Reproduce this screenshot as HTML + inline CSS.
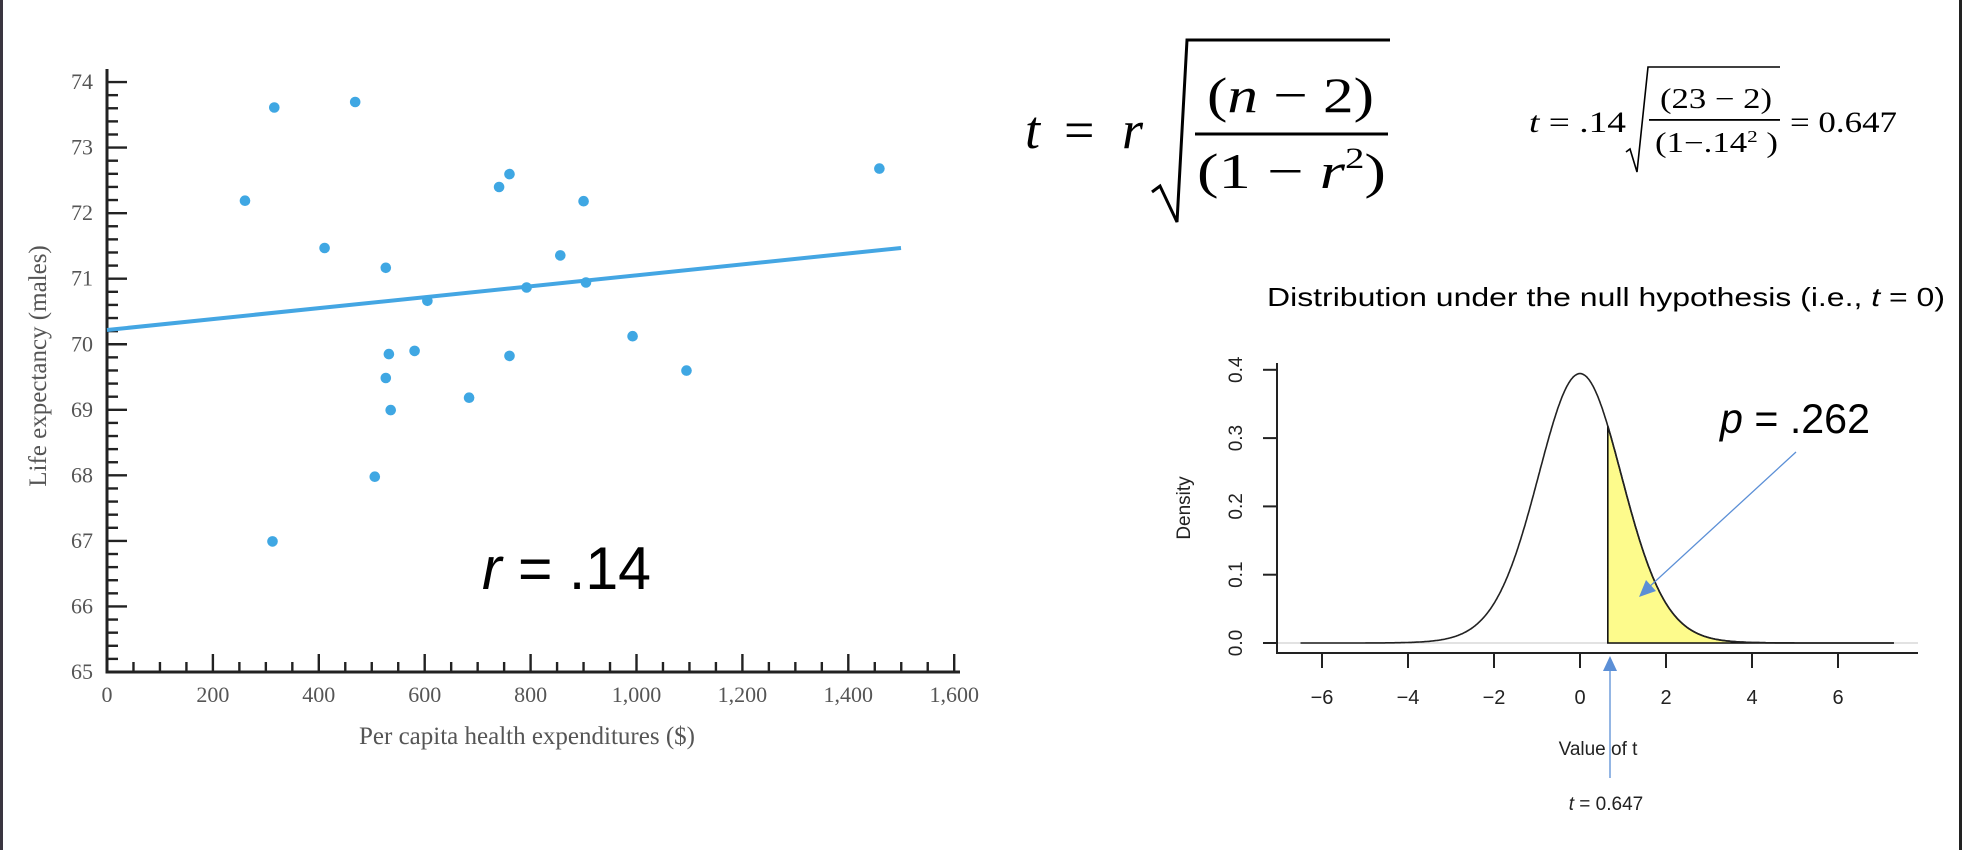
<!DOCTYPE html>
<html><head><meta charset="utf-8"><style>
html,body{margin:0;padding:0;background:#fff;}
svg{display:block;}
</style></head><body>
<svg id="s" width="1962" height="850" viewBox="0 0 1962 850" xmlns="http://www.w3.org/2000/svg">
<rect x="0" y="0" width="1962" height="850" fill="#fff"/>
<rect x="0" y="0" width="3" height="850" fill="#3a3540"/>
<rect x="1959" y="0" width="3" height="850" fill="#222"/>
<g id="left"></g>
<g font-family="Liberation Serif, serif" fill="#555">
<text x="527" y="744" font-size="25" text-anchor="middle">Per capita health expenditures ($)</text>
<text transform="translate(46,366) rotate(-90)" font-size="25" text-anchor="middle">Life expectancy (males)</text>
</g>
<text x="482" y="589" font-family="Liberation Sans, sans-serif" font-size="60" textLength="169" lengthAdjust="spacingAndGlyphs"><tspan font-style="italic">r</tspan> = .14</text>

<!-- big formula -->
<g font-family="Liberation Serif, serif" fill="#000">
<text x="1025" y="148" font-size="54" font-style="italic">t</text>
<text x="1064" y="148" font-size="54">=</text>
<text x="1122" y="148" font-size="54" font-style="italic">r</text>
<polyline points="1152,192 1160,186 1177,222 1187,40 1390,40" fill="none" stroke="#000" stroke-width="3"/>
<rect x="1195" y="132.5" width="193" height="3"/>
<text x="1207" y="112" font-size="50" textLength="167" lengthAdjust="spacingAndGlyphs">(<tspan font-style="italic">n</tspan> − 2)</text>
<text x="1197" y="188" font-size="50" textLength="189" lengthAdjust="spacingAndGlyphs">(1 − <tspan font-style="italic">r</tspan><tspan font-size="30" dy="-20">2</tspan><tspan dy="20">)</tspan></text>
</g>
<!-- small formula -->
<g font-family="Liberation Serif, serif" fill="#000">
<text x="1529" y="132" font-size="30" textLength="97" lengthAdjust="spacingAndGlyphs"><tspan font-style="italic">t</tspan> = .14</text>
<polyline points="1626,152 1630,149 1637,172 1648,67 1780,67" fill="none" stroke="#000" stroke-width="1.6"/>
<rect x="1649" y="119" width="131" height="1.8"/>
<text x="1660" y="108" font-size="28" textLength="112" lengthAdjust="spacingAndGlyphs">(23 − 2)</text>
<text x="1655" y="152" font-size="28" textLength="123" lengthAdjust="spacingAndGlyphs">(1−.14<tspan font-size="17" dy="-10">2</tspan><tspan dy="10"> )</tspan></text>
<text x="1790" y="132" font-size="30" textLength="107" lengthAdjust="spacingAndGlyphs">= 0.647</text>
</g>
<text x="1267" y="306" font-family="Liberation Sans, sans-serif" font-size="26" textLength="678" lengthAdjust="spacingAndGlyphs">Distribution under the null hypothesis (i.e., <tspan font-style="italic">t</tspan> = 0)</text>

<g id="right"></g>
<g font-family="Liberation Sans, sans-serif" fill="#222">
<text transform="translate(1190,508) rotate(-90)" font-size="19" text-anchor="middle">Density</text>
<text x="1598" y="755" font-size="19" text-anchor="middle">Value of t</text>
<text x="1606" y="810" font-size="19" text-anchor="middle"><tspan font-style="italic">t</tspan> = 0.647</text>
</g>
<text x="1720" y="433" font-family="Liberation Sans, sans-serif" font-size="42" textLength="150" lengthAdjust="spacingAndGlyphs"><tspan font-style="italic">p</tspan> = .262</text>
<g stroke="#5b8fd6" fill="#5b8fd6" stroke-width="1.3">
<line x1="1796" y1="452" x2="1648" y2="588"/>
<polygon points="1639,597 1646,580 1656,591" stroke="none"/>
<line x1="1610" y1="778" x2="1610" y2="668"/>
<polygon points="1610,656 1603,671 1617,671" stroke="none"/>
</g>
</svg>
<script>
var NS="http://www.w3.org/2000/svg";
function el(p,n,a,t){var e=document.createElementNS(NS,n);for(var k in a)e.setAttribute(k,a[k]);if(t!==undefined)e.textContent=t;p.appendChild(e);return e;}
var L=document.getElementById("left");
var X0=107,XS=105.9/200,Y0=672,YS=65.55;
el(L,"line",{x1:X0,y1:69,x2:X0,y2:Y0+1.5,stroke:"#222","stroke-width":3});
el(L,"line",{x1:X0-1.5,y1:Y0,x2:960,y2:Y0,stroke:"#222","stroke-width":3});
for(var i=0;i<=45;i++){var y=Y0-i*YS/5;var maj=i%5==0;el(L,"line",{x1:X0,y1:y,x2:X0+(maj?20:11),y2:y,stroke:"#222","stroke-width":2.4});
 if(maj)el(L,"text",{x:93,y:y+7,"font-family":"Liberation Serif, serif","font-size":22,fill:"#555","text-anchor":"end"},String(65+i/5));}
for(var v=0;v<=1600;v+=50){var x=X0+v*XS;var maj=v%200==0;el(L,"line",{x1:x,y1:Y0,x2:x,y2:Y0-(maj?18:10),stroke:"#222","stroke-width":2.4});
 if(maj){var s=v>=1000?(Math.floor(v/1000)+","+String(v%1000).padStart(3,"0")):String(v);el(L,"text",{x:x,y:702,"font-family":"Liberation Serif, serif","font-size":22,fill:"#555","text-anchor":"middle"},s);}}
el(L,"line",{x1:107,y1:330,x2:901,y2:248,stroke:"#44a6e3","stroke-width":4});
var P=[[274.3,107.5],[355.2,102],[245,200.7],[324.6,248],[385.8,267.8],[427.4,300.8],[388.9,354.1],[414.6,350.9],[385.8,378],[390.7,410.1],[374.8,476.7],[272.5,541.4],[469.1,397.7],[509.5,355.9],[499.1,187],[509.5,174.1],[526.6,287.5],[560.3,255.4],[583.6,201.2],[586,282.5],[632.6,336.2],[686.5,370.6],[879.4,168.6]];
P.forEach(function(p){el(L,"circle",{cx:p[0],cy:p[1],r:5.3,fill:"#3fa7e3"});});

var R=document.getElementById("right");
var TX0=1580,TS=43,B=643,DS=683;
function f(t){return 0.3945*Math.pow(1+t*t/21,-11);}
el(R,"line",{x1:1277,y1:B,x2:1918,y2:B,stroke:"#e2e2e2","stroke-width":2});
var d="M"+(TX0+0.647*TS)+","+B;
for(var t=0.647;t<=7.3;t+=0.02)d+=" L"+(TX0+t*TS).toFixed(1)+","+(B-f(t)*DS).toFixed(1);
d+=" L"+(TX0+7.3*TS)+","+B+" Z";
el(R,"path",{d:d,fill:"#fdfb8c",stroke:"#111","stroke-width":1.6});
var c="";for(var t=-6.5;t<=7.3;t+=0.02)c+=(c?" L":"M")+(TX0+t*TS).toFixed(1)+","+(B-f(t)*DS).toFixed(1);
el(R,"path",{d:c,fill:"none",stroke:"#222","stroke-width":1.6});
el(R,"line",{x1:1277,y1:363,x2:1277,y2:654,stroke:"#222","stroke-width":2});
el(R,"line",{x1:1276,y1:653,x2:1918,y2:653,stroke:"#222","stroke-width":2});
for(var k=0;k<=4;k++){var y=B-k*0.1*DS;el(R,"line",{x1:1263,y1:y,x2:1277,y2:y,stroke:"#222","stroke-width":2});
 el(R,"text",{transform:"translate(1242,"+y+") rotate(-90)","font-family":"Liberation Sans, sans-serif","font-size":19,fill:"#222","text-anchor":"middle"},(k/10).toFixed(1));}
for(var v=-6;v<=6;v+=2){var x=TX0+v*TS;el(R,"line",{x1:x,y1:653,x2:x,y2:668,stroke:"#222","stroke-width":2});
 el(R,"text",{x:x,y:704,"font-family":"Liberation Sans, sans-serif","font-size":20,fill:"#222","text-anchor":"middle"},v<0?"−"+(-v):String(v));}
</script>
</body></html>
